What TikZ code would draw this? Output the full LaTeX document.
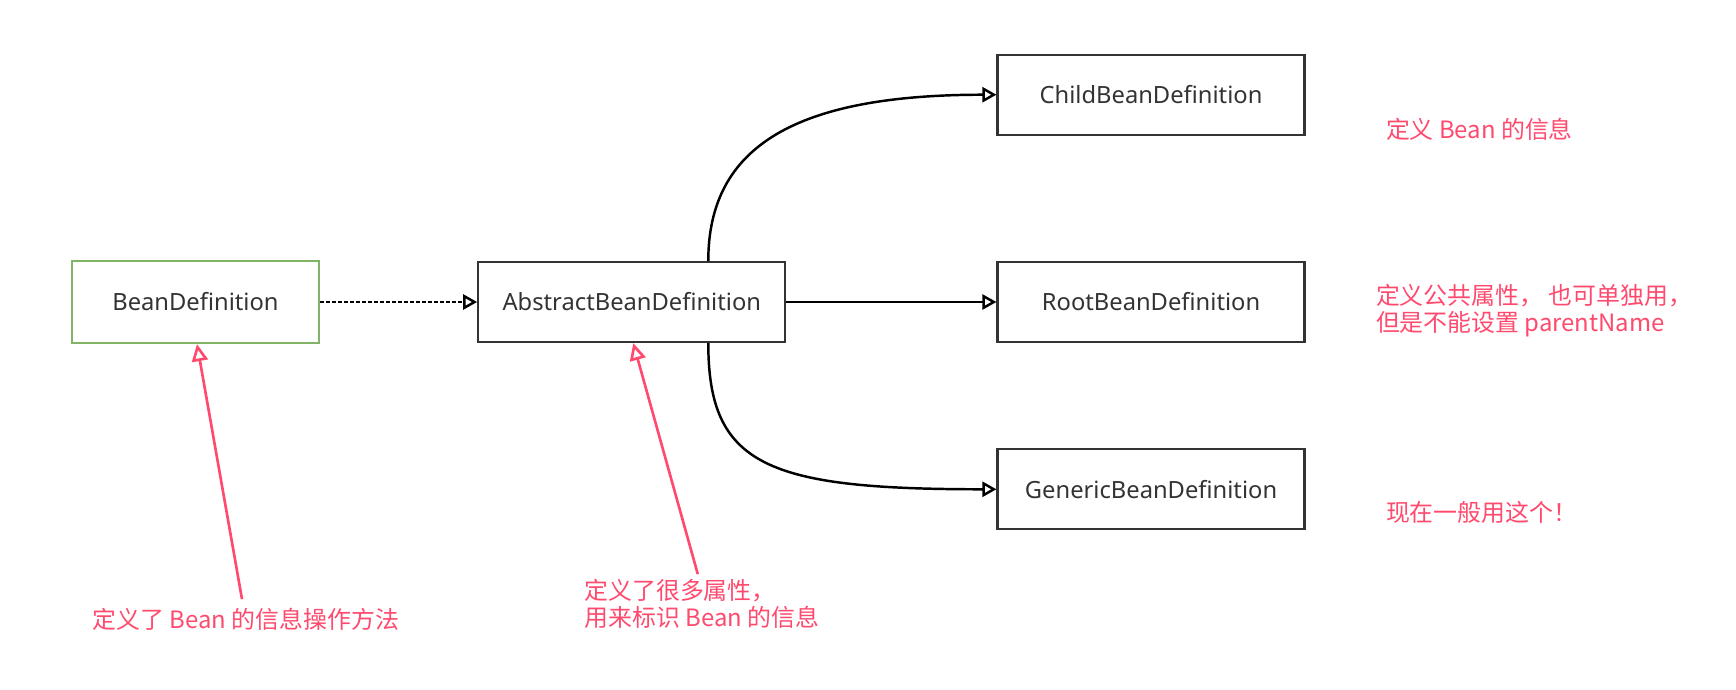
\documentclass[tikz,border=0pt]{standalone}
\usepackage{fontspec}
\setmainfont{Noto Sans}
\newfontfamily\cjk{Noto Sans CJK SC}
\usepackage{tikz}
\usetikzlibrary{positioning}
\usetikzlibrary{arrows.meta}
\tikzset{>={Triangle[open,width=3mm,length=2.8mm]}}
\definecolor{boxgrey}{HTML}{333333}
\definecolor{ifacegreen}{HTML}{82B366}
\definecolor{notered}{HTML}{FF4A6E}

\begin{document}
\begin{tikzpicture}[classnode/.style={rectangle, draw=boxgrey, line width=1.3pt, text=boxgrey, font=\fontsize{13.5}{16}\selectfont, minimum width=6.14cm, minimum height=1.6cm, inner sep=0pt}, ifacenode/.style={classnode, draw=ifacegreen, minimum width=4.94cm, minimum height=1.64cm}, notenode/.style={draw=none, fill=none, text=notered, font=\cjk\fontsize{13.6}{15.4}\selectfont, align=left, inner sep=0pt}, notearrow/.style={draw=notered, line width=1.5pt, -{Triangle[open,width=3.2mm,length=3.4mm]}}, link/.style={->, draw=black, line width=1.4pt}]

    \useasboundingbox (0,0) rectangle (34.72,-13.8);

    %Nodes
    \node[ifacenode](bean) at (3.91,-6.04){BeanDefinition};
    \node[classnode](abstract)[right=3.14cm of bean]{AbstractBeanDefinition};
    \node[classnode](root)[right=4.2cm of abstract]{RootBeanDefinition};
    \node[classnode](child)[above=2.5cm of root]{ChildBeanDefinition};
    \node[classnode](generic)[below=2.1cm of root]{GenericBeanDefinition};

    \node[notenode](child_text)[right=1.6cm of child, yshift=-0.7cm]{定义 Bean 的信息};
    \node[notenode](root_text)[right=1.4cm of root, yshift=-0.17cm]{定义公共属性， 也可单独用，\\但是不能设置 parentName};
    \node[notenode](generic_text)[right=1.6cm of generic, yshift=-0.46cm]{现在一般用这个！};

    \node[notenode](bean_text)[below=5.28cm of bean, xshift=1.01cm]{定义了 Bean 的信息操作方法};
    \node[notenode](abstract_text)[below=4.72cm of abstract.south west, anchor=north west, xshift=2.14cm]{定义了很多属性，\\用来标识 Bean 的信息};

    %Lines
    \draw[link, dash pattern=on 2.3pt off 1.1pt] (bean.east) -- (abstract.west);
    \draw[link] (abstract.east) -- (root.west);
    \draw[link] ([xshift=1.53cm]abstract.north) .. controls +(up:2.3cm) and +(left:4cm) .. (child.west);
    \draw[link] ([xshift=1.53cm]abstract.south) .. controls +(down:2.45cm) and +(left:4.6cm) .. (generic.west);

    \draw[notearrow] ([xshift=-0.08cm, yshift=0.18cm]bean_text.north) -- ([xshift=0.03cm]bean.south);
    \draw[notearrow] ([xshift=-0.08cm, yshift=0.1cm]abstract_text.north) -- ([xshift=0.03cm]abstract.south);

\end{tikzpicture}
\end{document}
